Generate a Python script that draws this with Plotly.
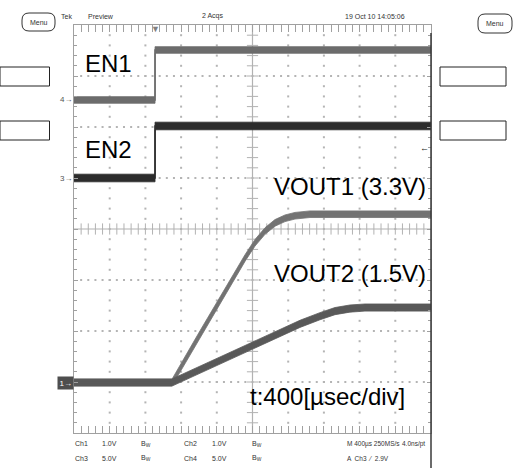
import plotly.graph_objects as go

# ---------------- acquisition settings ----------------
T_PER_DIV = 400.0          # µs / div
N_XDIV, N_YDIV = 10, 8
TRIG_DIV = 2.27            # trigger point, divisions from the left edge
T_START = -TRIG_DIV * T_PER_DIV
T_END = T_START + N_XDIV * T_PER_DIV

# volts/div and ground-marker position (div above bottom) per channel
ch_volts_per_div = {1: 1.0, 2: 1.0, 3: 5.0, 4: 5.0}
ch_ground_div = {1: 0.99, 2: 0.99, 3: 5.0, 4: 6.53}

# ---------------- waveforms (µs from trigger, volts) ----------------
en1_time = [-908, 0, 0, 3092]          # Ch4
en1_volt = [0.0, 0.0, 4.9, 4.9]
en2_time = [-908, 0, 0, 3092]          # Ch3
en2_volt = [0.0, 0.0, 5.1, 5.1]
vout1_time = [-908, 190, 504, 1008, 1120, 1232, 1344, 1456, 1568, 1736, 3092]   # Ch1
vout1_volt = [0.0, 0.0, 0.95, 2.44, 2.74, 2.97, 3.13, 3.22, 3.27, 3.30, 3.30]
vout2_time = [-908, 190, 1400, 1624, 1848, 2016, 2184, 2352, 3092]             # Ch2
vout2_volt = [0.0, 0.0, 0.97, 1.15, 1.30, 1.40, 1.45, 1.47, 1.47]

TRIG_LEVEL = 2.9   # V on Ch3

# ---------------- page geometry (px) ----------------
W, H = 522, 468
PL, PR, PT, PB = 74, 431, 25, 433   # graticule box


def px(x):
    return (x - PL) / (PR - PL)


def py(y):
    return (PB - y) / (PB - PT)


fig = go.Figure()

# ---------------- graticule ----------------
minor_t = [T_START + i * T_PER_DIV / 5 for i in range(N_XDIV * 5 + 1)]
minor_y = [i / 5 for i in range(N_YDIV * 5 + 1)]
major_t = [T_START + k * T_PER_DIV for k in range(1, N_XDIV)]
major_y = [k for k in range(1, N_YDIV)]
t_mid = T_START + N_XDIV / 2 * T_PER_DIV
y_mid = N_YDIV / 2

dot_x, dot_y = [], []
for yy in major_y:
    if yy == y_mid:
        continue
    for tt in minor_t[1:-1]:
        dot_x.append(tt)
        dot_y.append(yy)
for tt in major_t:
    if abs(tt - t_mid) < 1e-6:
        continue
    for yy in minor_y[1:-1]:
        dot_x.append(tt)
        dot_y.append(yy)
fig.add_trace(go.Scatter(x=dot_x, y=dot_y, mode="markers", yaxis="y",
                         marker=dict(symbol="square", size=2, color="#b4b4b4",
                                     line=dict(width=0)),
                         hoverinfo="skip", showlegend=False))

# centre cross
GRAT = "#b2b2b2"
fig.add_shape(type="line", xref="x", yref="y", x0=T_START, x1=T_END, y0=y_mid, y1=y_mid,
              line=dict(color=GRAT, width=1.2), layer="below")
fig.add_shape(type="line", xref="x", yref="y", x0=t_mid, x1=t_mid, y0=0, y1=N_YDIV,
              line=dict(color=GRAT, width=1.2), layer="below")
fig.add_trace(go.Scatter(x=minor_t[1:-1], y=[y_mid] * (len(minor_t) - 2), mode="markers",
                         marker=dict(symbol="line-ns", size=8, line=dict(color=GRAT, width=1)),
                         hoverinfo="skip", showlegend=False))
fig.add_trace(go.Scatter(x=[t_mid] * (len(minor_y) - 2), y=minor_y[1:-1], mode="markers",
                         marker=dict(symbol="line-ew", size=8, line=dict(color=GRAT, width=1)),
                         hoverinfo="skip", showlegend=False))

# ---------------- channel traces ----------------
BAND_DIV = 0.065
axis_of = {1: "y2", 2: "y3", 3: "y4", 4: "y5"}


def add_wave(t, v, ch, color, band=BAND_DIV):
    h = band * ch_volts_per_div[ch]
    xs = list(t) + list(reversed(t))
    ys = [a + h for a in v] + [a - h for a in reversed(v)]
    fig.add_trace(go.Scatter(x=xs, y=ys, yaxis=axis_of[ch], mode="lines", fill="toself",
                             fillcolor=color, line=dict(color=color, width=0.8),
                             hoverinfo="skip", showlegend=False))
    fig.add_trace(go.Scatter(x=t, y=v, yaxis=axis_of[ch], mode="lines",
                             line=dict(color=color, width=1.6),
                             hoverinfo="skip", showlegend=False))


add_wave(en1_time, en1_volt, 4, "#6c6c6c")
add_wave(en2_time, en2_volt, 3, "#2c2c2c", band=0.075)
add_wave(vout2_time, vout2_volt, 2, "#595959", band=0.07)
add_wave(vout1_time, vout1_volt, 1, "#737373")

# ---------------- axes ----------------
fig.update_layout(
    width=W, height=H,
    margin=dict(l=PL, r=W - PR, t=PT, b=H - PB, pad=0),
    paper_bgcolor="white", plot_bgcolor="white",
    showlegend=False,
    xaxis=dict(range=[T_START, T_END], showgrid=False, zeroline=False,
               showticklabels=False, showline=True, linecolor="#a0a0a0", linewidth=1,
               mirror="allticks", ticks="inside", ticklen=7, tickcolor="#a0a0a0",
               tickwidth=1, tick0=T_START, dtick=T_PER_DIV,
               minor=dict(ticks="inside", ticklen=4, tickcolor="#a0a0a0",
                          tick0=T_START, dtick=T_PER_DIV / 5, showgrid=False)),
    yaxis=dict(range=[0, N_YDIV], showgrid=False, zeroline=False,
               showticklabels=False, showline=True, linecolor="#a0a0a0", linewidth=1,
               mirror="allticks", ticks="inside", ticklen=4, tickcolor="#a0a0a0",
               tickwidth=1, tick0=0, dtick=1,
               minor=dict(ticks="inside", ticklen=3, tickcolor="#a0a0a0",
                          tick0=0, dtick=0.2, showgrid=False)),
)
for ch, ax in axis_of.items():
    s, g = ch_volts_per_div[ch], ch_ground_div[ch]
    fig.update_layout({"yaxis%s" % ax[1:]: dict(range=[-g * s, (N_YDIV - g) * s],
                                                  overlaying="y", visible=False)})

# ---------------- texts ----------------
BIG = dict(family="Liberation Sans, Arial, sans-serif", size=24, color="#000000")
SMALL = dict(family="Liberation Sans, Arial, sans-serif", size=7, color="#333333")
TINY = dict(SMALL, size=6.5)


def note(text, x, y, font, xanchor="left", yanchor="middle", **kw):
    fig.add_annotation(text=text, x=px(x), y=py(y), xref="paper", yref="paper",
                       xanchor=xanchor, yanchor=yanchor, showarrow=False, font=font, **kw)


note("EN1", 83, 63, BIG)
note("EN2", 83, 149, BIG)
note("VOUT1 (3.3V)", 428, 186, BIG, xanchor="right")
note("VOUT2 (1.5V)", 428, 273, BIG, xanchor="right")
note("t:400[µsec/div]", 248, 396, BIG)

# header
note("Tek", 59, 16, SMALL)
note("Preview", 86, 16, SMALL)
note("2 Acqs", 200, 16, SMALL)
note("19 Oct 10 14:05:06", 343, 16, SMALL)
note("Menu", 38.5, 22, SMALL, xanchor="center")
note("Menu", 495, 23.5, SMALL, xanchor="center")

# footer
row1, row2 = 444, 458
for x, a, b in [(73, "Ch1", "Ch3"), (100, "1.0V", "5.0V"), (139, "B<sub>W</sub>", "B<sub>W</sub>"),
                (182, "Ch2", "Ch4"), (210, "1.0V", "5.0V"), (250, "B<sub>W</sub>", "B<sub>W</sub>")]:
    note(a, x, row1, SMALL)
    note(b, x, row2, SMALL)
note("M 400µs 250MS/s", 345, row1, TINY)
note("4.0ns/pt", 427, row1, TINY, xanchor="right")
note("A  Ch3  ⁄  2.9V", 345, row2, TINY)

# channel ground markers on the left edge
for ch, label in [(4, "4→"), (3, "3→")]:
    fig.add_annotation(text=label, x=0, y=0, xref="paper", yref=axis_of[ch],
                       xanchor="right", yanchor="middle", showarrow=False,
                       font=dict(SMALL, color="#555555", size=8))
fig.add_annotation(text="1→", x=0, y=0, xref="paper", yref=axis_of[1],
                   xanchor="right", yanchor="middle", showarrow=False, bgcolor="#4e4e4e",
                   borderpad=1.5, font=dict(SMALL, color="#ffffff", size=8))
# trigger level (right edge) and trigger position (top edge)
fig.add_annotation(text="←", x=1, y=TRIG_LEVEL, xref="paper", yref=axis_of[3],
                   xanchor="right", yanchor="middle", showarrow=False,
                   font=dict(SMALL, color="#222222", size=9))
fig.add_annotation(text="▼", x=0, y=1, xref="x", yref="paper", xanchor="center",
                   yanchor="top", showarrow=False, font=dict(SMALL, color="#808080", size=9),
                   yshift=3)

# ---------------- frame furniture ----------------
fig.add_shape(type="line", xref="paper", yref="paper", x0=px(431), x1=px(431),
              y0=py(33), y1=py(468), line=dict(color="#3a3a3a", width=1.5))
for y0, y1 in [(67, 86), (121, 140)]:
    fig.add_shape(type="rect", xref="paper", yref="paper", x0=px(0), x1=px(49.5),
                  y0=py(y1), y1=py(y0), line=dict(color="#222222", width=1))
    fig.add_shape(type="rect", xref="paper", yref="paper", x0=px(440), x1=px(506),
                  y0=py(y1), y1=py(y0), line=dict(color="#222222", width=1))


def pill(x0, y0, x1, y1, r=7):
    xa, xb = px(x0), px(x1)
    xr = r / (PR - PL)
    ya, yb = py(y1), py(y0)
    yr = r / (PB - PT)
    return (f"M {xa + xr} {ya} L {xb - xr} {ya} Q {xb} {ya} {xb} {ya + yr} "
            f"L {xb} {yb - yr} Q {xb} {yb} {xb - xr} {yb} L {xa + xr} {yb} "
            f"Q {xa} {yb} {xa} {yb - yr} L {xa} {ya + yr} Q {xa} {ya} {xa + xr} {ya} Z")


fig.add_shape(type="path", xref="paper", yref="paper", path=pill(22, 13, 55, 31),
              line=dict(color="#333333", width=1))
fig.add_shape(type="path", xref="paper", yref="paper", path=pill(478, 14, 512, 33),
              line=dict(color="#333333", width=1))

fig.write_html("out.html")
